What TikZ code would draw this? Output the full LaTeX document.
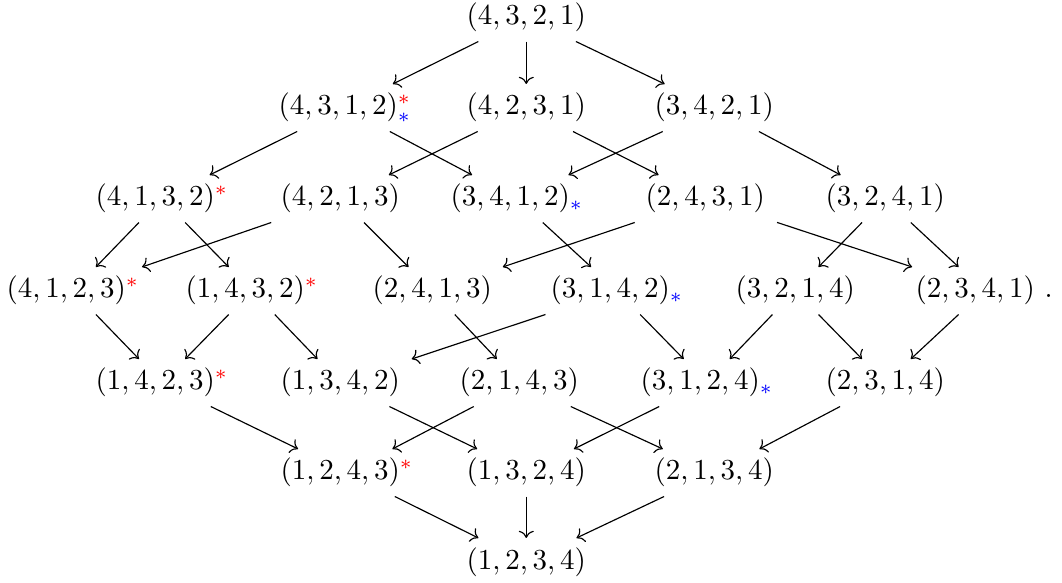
\documentclass[tikz,border=0pt]{standalone}
\usetikzlibrary{arrows.meta}
\begin{document}
\begin{tikzpicture}[x=0.345pt,y=-0.345pt,
  cell/.style={anchor=base west, inner xsep=4pt, inner ysep=3pt, xshift=-5pt},
  arr/.style={-{Computer Modern Rightarrow}, line width=0.4pt}]
\useasboundingbox (0,0) rectangle (1062,583);
\newcommand{\rs}{^{{\color{red}*}}}
\newcommand{\bs}{_{{\color{blue}*}}}
% row 0
\node[cell] (a4321) at (469,25) {$(4,3,2,1)$};
% row 1
\node[cell] (a4312) at (281,115) {$(4,3,1,2)^{{\color{red}*}}_{{\color{blue}*}}$};
\node[cell] (a4231) at (469,115) {$(4,2,3,1)$};
\node[cell] (a3421) at (657,115) {$(3,4,2,1)$};
% row 2
\node[cell] (a4132) at (98,206) {$(4,1,3,2)\rs$};
\node[cell] (a4213) at (283,206) {$(4,2,1,3)$};
\node[cell] (a3412) at (453,206) {$(3,4,1,2)\bs$};
\node[cell] (a2431) at (648,206) {$(2,4,3,1)$};
\node[cell] (a3241) at (828,206) {$(3,2,4,1)$};
% row 3
\node[cell] (a4123) at (9,298) {$(4,1,2,3)\rs$};
\node[cell] (a1432) at (188,298) {$(1,4,3,2)\rs$};
\node[cell] (a2413) at (375,298) {$(2,4,1,3)$};
\node[cell] (a3142) at (553,298) {$(3,1,4,2)\bs$};
\node[cell] (a3214) at (738,298) {$(3,2,1,4)$};
\node[cell] (a2341) at (918,298) {$(2,3,4,1)\ .$};
% row 4
\node[cell] (a1423) at (98,390) {$(1,4,2,3)\rs$};
\node[cell] (a1342) at (283,390) {$(1,3,4,2)$};
\node[cell] (a2143) at (462,390) {$(2,1,4,3)$};
\node[cell] (a3124) at (643,390) {$(3,1,2,4)\bs$};
\node[cell] (a2314) at (828,390) {$(2,3,1,4)$};
% row 5
\node[cell] (a1243) at (283,480) {$(1,2,4,3)\rs$};
\node[cell] (a1324) at (469,480) {$(1,3,2,4)$};
\node[cell] (a2134) at (657,480) {$(2,1,3,4)$};
% row 6
\node[cell] (a1234) at (469,569) {$(1,2,3,4)$};
% edges
\draw[arr] (a4321) -- (a4312);
\draw[arr] (a4321) -- (a4231);
\draw[arr] (a4321) -- (a3421);
\draw[arr] (a4312) -- (a4132);
\draw[arr] (a4312) -- (a3412);
\draw[arr] (a4231) -- (a4213);
\draw[arr] (a4231) -- (a2431);
\draw[arr] (a3421) -- (a3412);
\draw[arr] (a3421) -- (a3241);
\draw[arr] (a4132) -- (a4123);
\draw[arr] (a4132) -- (a1432);
\draw[arr] (a4213) -- (a4123);
\draw[arr] (a4213) -- (a2413);
\draw[arr] (a3412) -- (a3142);
\draw[arr] (a2431) -- (a2413);
\draw[arr] (a2431) -- (a2341);
\draw[arr] (a3241) -- (a3214);
\draw[arr] (a3241) -- (a2341);
\draw[arr] (a4123) -- (a1423);
\draw[arr] (a1432) -- (a1423);
\draw[arr] (a1432) -- (a1342);
\draw[arr] (a3142) -- (a1342);
\draw[arr] (a2413) -- (a2143);
\draw[arr] (a3142) -- (a3124);
\draw[arr] (a3214) -- (a3124);
\draw[arr] (a3214) -- (a2314);
\draw[arr] (a2341) -- (a2314);
\draw[arr] (a1423) -- (a1243);
\draw[arr] (a2143) -- (a1243);
\draw[arr] (a1342) -- (a1324);
\draw[arr] (a2143) -- (a2134);
\draw[arr] (a3124) -- (a1324);
\draw[arr] (a2314) -- (a2134);
\draw[arr] (a1243) -- (a1234);
\draw[arr] (a1324) -- (a1234);
\draw[arr] (a2134) -- (a1234);
\end{tikzpicture}
\end{document}
